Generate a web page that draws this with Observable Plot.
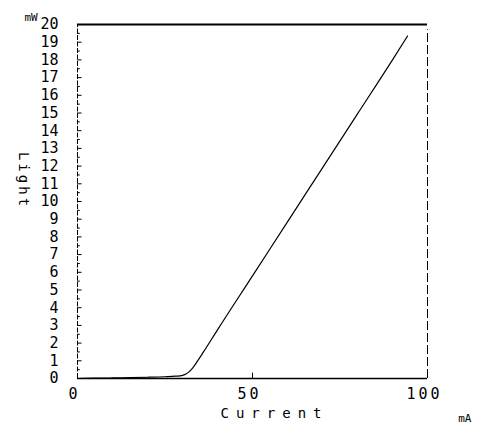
<!DOCTYPE html>
<html>
<head>
<meta charset="utf-8">
<script src="https://cdn.jsdelivr.net/npm/d3@7"></script>
<script src="https://cdn.jsdelivr.net/npm/@observablehq/plot@0.6"></script>
<style>
  html, body { margin: 0; padding: 0; background: #fff; }
</style>
</head>
<body>
<div id="chart"></div>
<script>
// Laser diode L–I characteristic: optical output vs drive current
const current = [0, 5, 10, 15, 20, 25, 28, 30, 31, 32, 33, 34, 36, 40, 50, 60, 70, 80, 90, 94.3];
const light   = [0, 0.02, 0.03, 0.05, 0.07, 0.1, 0.13, 0.18, 0.25, 0.4, 0.62, 0.9, 1.5, 2.75, 5.8, 8.85, 11.9, 14.95, 18.0, 19.35];

const yTicks = d3.range(0, 21);          // 0 … 20 mW
const yHalfTicks = d3.range(0.5, 20, 1);
const xTicks = [0, 50, 100];             // mA

const xLabel = "Current";
const yLabel = "Light";
const xUnit = "mA";
const yUnit = "mW";

const data = current.map((c, i) => ({current: c, light: light[i]}));

const chart = Plot.plot({
  width: 493,
  height: 434,
  marginLeft: 77,
  marginRight: 66,
  marginTop: 24,
  marginBottom: 56,
  x: {domain: [0, 100]},
  y: {domain: [0, 20]},
  style: {fontFamily: "'DejaVu Sans Mono', monospace", background: "#fff", color: "#000"},
  marks: [
    // tick labels
    Plot.axisY(yTicks, {tickSize: 0, tickPadding: 19, fontSize: 15, label: null}),
    Plot.axisX(xTicks, {tickSize: 0, tickPadding: 10, fontSize: 15, label: null, dx: -3}),
    // inward ticks on the current axis
    Plot.ruleY(yTicks, {x1: 0, x2: 1.3, stroke: "#000", strokeWidth: 1}),
    Plot.ruleY(yHalfTicks, {x1: 0, x2: 0.8, stroke: "#000", strokeWidth: 1}),
    Plot.ruleX([50], {y1: 0, y2: 0.3, stroke: "#000"}),
    // frame
    Plot.ruleX([0], {y1: 0, y2: 20, stroke: "#000", strokeWidth: 1, strokeDasharray: "5,1.5"}),
    Plot.ruleY([20], {x1: 0, x2: 100, stroke: "#000", strokeWidth: 2}),
    Plot.ruleY([0], {x1: 0, x2: 100, stroke: "#000", strokeWidth: 1.6}),
    Plot.ruleX([100], {y1: 0, y2: 19.7, stroke: "#000", strokeWidth: 1, strokeDasharray: "9,3"}),
    // L–I curve
    Plot.line(data, {x: "current", y: "light", stroke: "#000", strokeWidth: 1.2, curve: "monotone-x"}),
    // axis titles and units
    Plot.text([yUnit], {text: d => d, frameAnchor: "top-left", dx: -53, dy: -11, fontSize: 11}),
    Plot.text([yLabel], {text: d => d, frameAnchor: "left", dx: -54, dy: -21, rotate: 90, fontSize: 14, textAnchor: "middle"}),
    Plot.text([xLabel], {text: d => d, frameAnchor: "bottom", dx: 22, dy: 39, fontSize: 14}),
    Plot.text([xUnit], {text: d => d, frameAnchor: "bottom-right", dx: 44, dy: 43, fontSize: 11})
  ]
});

// plotter-style letter spacing
const svg = d3.select(chart);
svg.selectAll("text")
  .filter(function() { return this.textContent === xLabel; })
  .style("letter-spacing", "7px");
svg.selectAll("text")
  .filter(function() { return this.textContent === yLabel; })
  .style("letter-spacing", "3px");
svg.selectAll("g[aria-label='x-axis tick label'] text")
  .style("letter-spacing", "3px");

document.getElementById("chart").append(chart);
</script>
</body>
</html>
